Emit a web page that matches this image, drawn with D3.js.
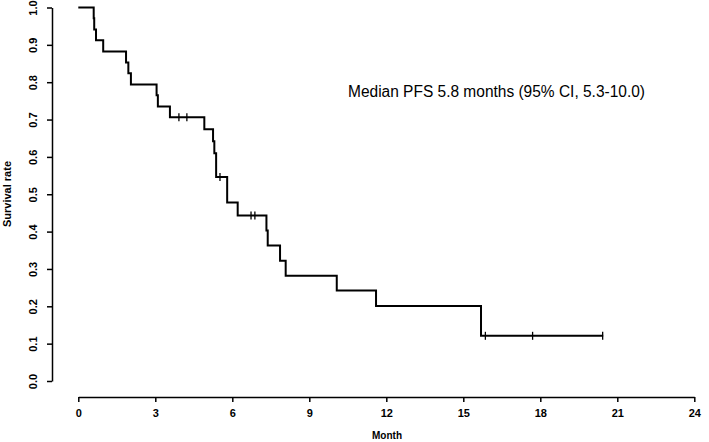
<!DOCTYPE html>
<html>
<head>
<meta charset="utf-8">
<script src="https://cdn.jsdelivr.net/npm/d3@7"></script>
<style>
  html, body { margin: 0; padding: 0; background: #fff; }
  svg { display: block; }
  text { font-family: "Liberation Sans", Arial, sans-serif; fill: #000; }
</style>
</head>
<body>
<svg id="chart" width="709" height="442"></svg>
<script>
// Kaplan-Meier step points (time in months, survival after the step)
const stepTimes    = [0, 0.60, 0.62, 0.69, 0.97, 1.86, 1.95, 2.05, 3.05, 3.10, 3.57, 4.91, 5.25, 5.30, 5.37, 5.80, 6.21, 7.33, 7.38, 7.86, 8.08, 10.07, 11.60, 15.69];
const stepSurvival = [1.000, 0.971, 0.941, 0.912, 0.882, 0.853, 0.824, 0.794, 0.765, 0.735, 0.706, 0.674, 0.642, 0.610, 0.546, 0.478, 0.443, 0.403, 0.363, 0.322, 0.282, 0.242, 0.201, 0.121];
const lastTime = 20.45;
// Censored observations
const censorTimes    = [3.92, 4.23, 5.52, 6.73, 6.88, 15.86, 17.70, 20.43];
const censorSurvival = [0.706, 0.706, 0.546, 0.443, 0.443, 0.121, 0.121, 0.121];
// Tick labels
const xTicks = [0, 3, 6, 9, 12, 15, 18, 21, 24];
const yTicks = [0.0, 0.1, 0.2, 0.3, 0.4, 0.5, 0.6, 0.7, 0.8, 0.9, 1.0];
const annotation = "Median PFS 5.8 months (95% CI, 5.3-10.0)";

const svg = d3.select("#chart");
const x = d3.scaleLinear().domain([0, 24]).range([78.3, 694.3]);
const y = d3.scaleLinear().domain([0, 1]).range([381, 7.5]);

// Y axis
const yAxis = svg.append("g").attr("transform", "translate(52,0)")
  .call(d3.axisLeft(y).tickValues(yTicks).tickFormat(d3.format(".1f")).tickSize(5).tickSizeOuter(0));
yAxis.select(".domain").attr("stroke", "#000").attr("stroke-width", 1.5);
yAxis.selectAll(".tick line").attr("stroke", "#000").attr("stroke-width", 1.5);
yAxis.selectAll(".tick text")
  .attr("font-size", 11).attr("font-weight", "bold")
  .attr("font-family", "Liberation Sans, Arial, sans-serif")
  .attr("x", null).attr("dy", null)
  .attr("text-anchor", "middle")
  .attr("transform", "translate(-19,0) rotate(-90)")
  .attr("dominant-baseline", "central");

// X axis
const xAxis = svg.append("g").attr("transform", "translate(0,397)")
  .call(d3.axisBottom(x).tickValues(xTicks).tickFormat(d3.format("d")).tickSize(5).tickSizeOuter(0));
xAxis.select(".domain").attr("stroke", "#000").attr("stroke-width", 1.5);
xAxis.selectAll(".tick line").attr("stroke", "#000").attr("stroke-width", 1.5);
xAxis.selectAll(".tick text")
  .attr("font-size", 11).attr("font-weight", "bold")
  .attr("font-family", "Liberation Sans, Arial, sans-serif")
  .attr("y", 20).attr("dy", null);

// Axis titles
svg.append("text").attr("x", 387).attr("y", 439)
  .attr("text-anchor", "middle").attr("font-size", 10).attr("font-weight", "bold").text("Month");
svg.append("text").attr("transform", "translate(11,194) rotate(-90)")
  .attr("text-anchor", "middle").attr("font-size", 11).attr("font-weight", "bold").text("Survival rate");

// Step curve
const pts = stepTimes.map((t, i) => [t, stepSurvival[i]]);
pts.push([lastTime, stepSurvival[stepSurvival.length - 1]]);
const line = d3.line().x(d => x(d[0])).y(d => y(d[1])).curve(d3.curveStepAfter);
svg.append("path").datum(pts).attr("d", line)
  .attr("fill", "none").attr("stroke", "#000").attr("stroke-width", 2);

// Censor marks
svg.append("g").selectAll("line").data(censorTimes.map((t, i) => [t, censorSurvival[i]]))
  .join("line")
  .attr("x1", d => x(d[0])).attr("x2", d => x(d[0]))
  .attr("y1", d => y(d[1]) - 4).attr("y2", d => y(d[1]) + 4)
  .attr("stroke", "#000").attr("stroke-width", 1.3);

// Annotation
const ann = svg.append("text").attr("x", 348).attr("y", 97)
  .attr("font-size", 16).text(annotation);
const w = ann.node().getComputedTextLength();
if (w > 0) ann.attr("textLength", 297).attr("lengthAdjust", "spacingAndGlyphs");
</script>
</body>
</html>
